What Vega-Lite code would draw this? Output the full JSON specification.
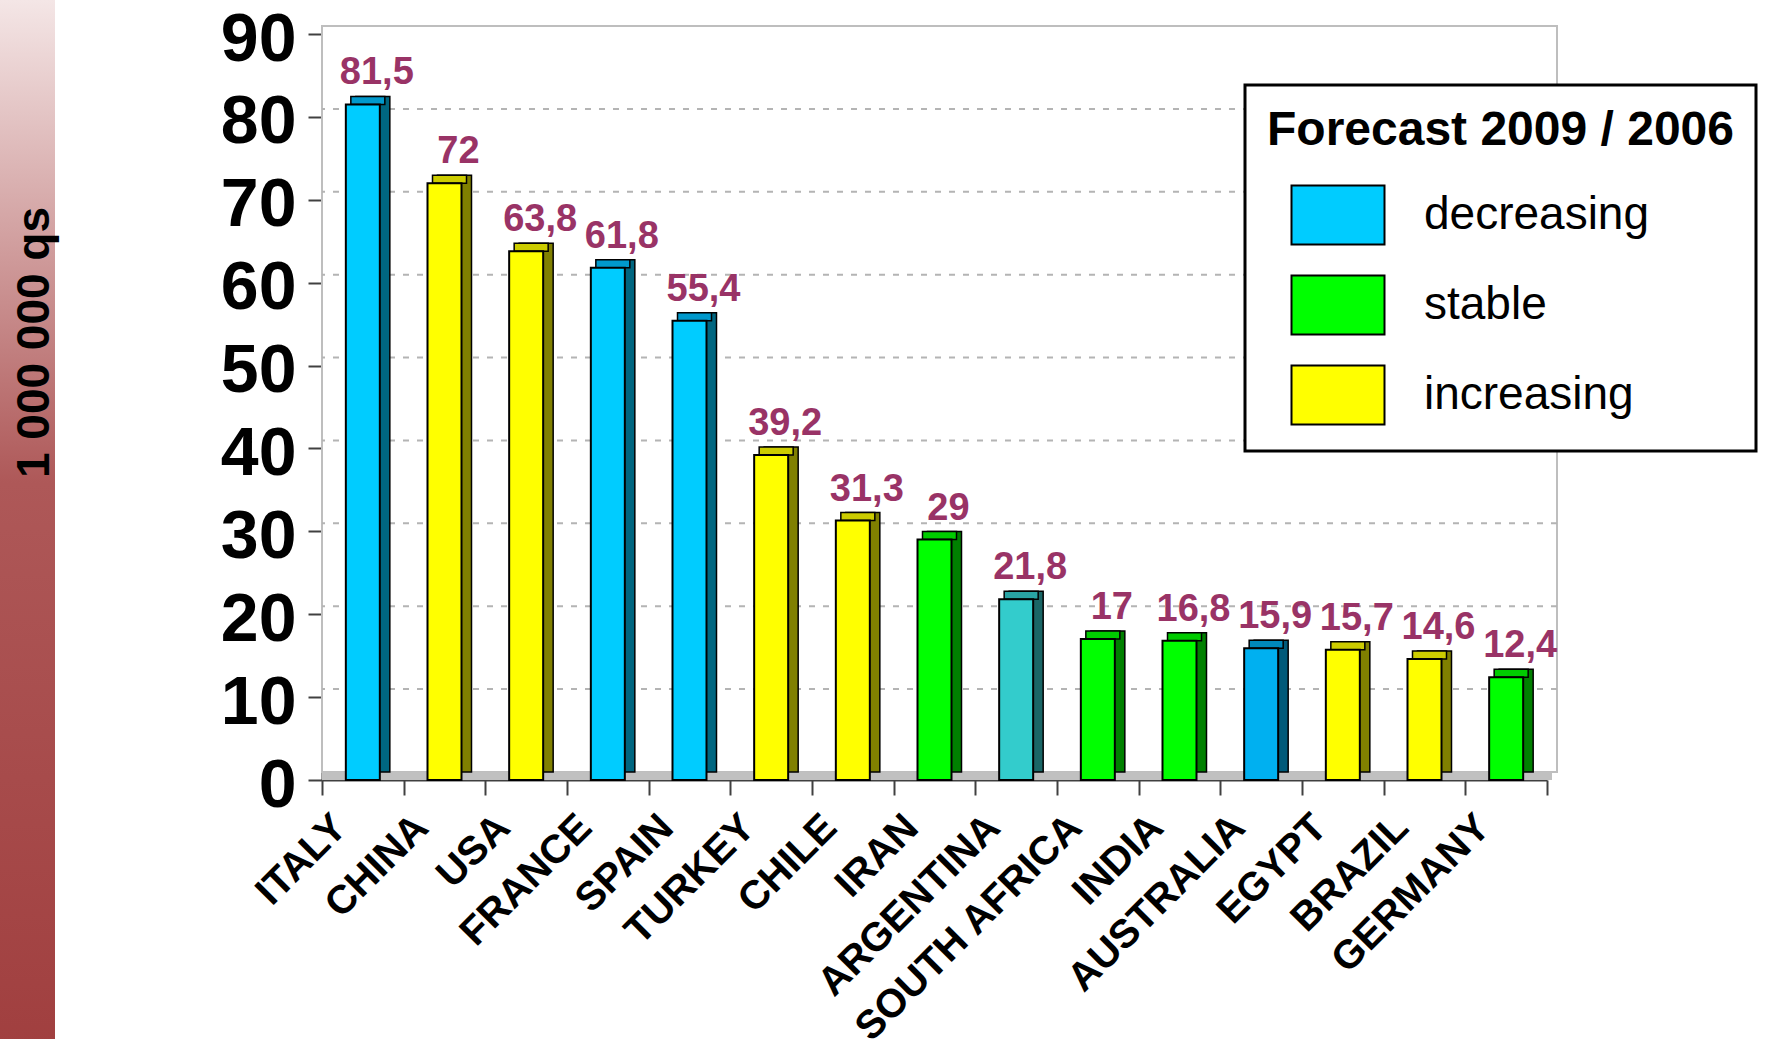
{
  "$schema": "https://vega.github.io/schema/vega-lite/v6.json",
  "background": "white",
  "padding": 0,
  "spacing": 162,
  "config": {
    "font": "Liberation Sans",
    "view": {"stroke": null},
    "legend": {"strokeWidth": 3},
    "locale": {"number": {"decimal": ",", "thousands": " ", "grouping": [3], "currency": ["", " €"]}}
  },
  "hconcat": [
    {
      "width": 55,
      "height": 1039,
      "data": {"values": [{"unit": "1 000 000 qs"}]},
      "layer": [
        {
          "mark": {
            "type": "rect",
            "yOffset": -34,
            "y2Offset": -34,
            "color": {
              "gradient": "linear",
              "x1": 0, "y1": 0, "x2": 0, "y2": 1,
              "stops": [
                {"offset": 0, "color": "#F4E6E6"},
                {"offset": 0.45, "color": "#AE5858"},
                {"offset": 1, "color": "#A03E3E"}
              ]
            }
          },
          "encoding": {}
        },
        {
          "mark": {"type": "text", "angle": 270, "fontSize": 46, "fontWeight": "bold", "color": "black", "align": "center", "baseline": "middle", "dx": 211, "dy": 7},
          "encoding": {"text": {"field": "unit"}}
        }
      ]
    },
    {
      "width": 1225,
      "height": 746,
      "data": {"values": [
        {"country": "ITALY", "value": 81.5, "trend": "decreasing"},
        {"country": "CHINA", "value": 72, "trend": "increasing"},
        {"country": "USA", "value": 63.8, "trend": "increasing"},
        {"country": "FRANCE", "value": 61.8, "trend": "decreasing"},
        {"country": "SPAIN", "value": 55.4, "trend": "decreasing"},
        {"country": "TURKEY", "value": 39.2, "trend": "increasing"},
        {"country": "CHILE", "value": 31.3, "trend": "increasing"},
        {"country": "IRAN", "value": 29, "trend": "stable"},
        {"country": "ARGENTINA", "value": 21.8, "trend": "slightly decreasing"},
        {"country": "SOUTH AFRICA", "value": 17, "trend": "stable"},
        {"country": "INDIA", "value": 16.8, "trend": "stable"},
        {"country": "AUSTRALIA", "value": 15.9, "trend": "strongly decreasing"},
        {"country": "EGYPT", "value": 15.7, "trend": "increasing"},
        {"country": "BRAZIL", "value": 14.6, "trend": "increasing"},
        {"country": "GERMANY", "value": 12.4, "trend": "stable"}
      ]},
      "resolve": {"scale": {"color": "independent"}},
      "layer": [
        {
          "mark": {"type": "bar", "width": 34, "stroke": "black", "strokeWidth": 2},
          "encoding": {
            "x": {
              "field": "country", "type": "nominal", "sort": null, "title": null,
              "scale": {"paddingInner": 0, "paddingOuter": 0},
              "axis": {
                "labelAngle": -45, "labelAlign": "right", "labelBaseline": "middle",
                "labelFontSize": 40, "labelFontWeight": "bold", "labelColor": "black",
                "labelPadding": 26, "labelOffset": -23, "labelLimit": 500,
                "tickBand": "extent", "tickSize": 15, "tickColor": "#404040", "tickWidth": 2,
                "domainColor": "#404040", "domainWidth": 2, "grid": false
              }
            },
            "y": {
              "field": "value", "type": "quantitative", "stack": null, "title": null,
              "scale": {"domain": [0, 90], "nice": false},
              "axis": {
                "values": [0, 10, 20, 30, 40, 50, 60, 70, 80, 90],
                "labelFontSize": 68, "labelFontWeight": "bold", "labelColor": "black",
                "labelPadding": 12, "labelOffset": 6, "tickSize": 14, "tickColor": "#404040", "tickWidth": 2,
                "domainColor": "#404040", "domainWidth": 2, "grid": false
              }
            },
            "opacity": {"value": 0},
            "color": {
              "field": "trend", "type": "nominal", "legend": null,
              "scale": {"domain": ["decreasing", "stable", "increasing", "slightly decreasing", "strongly decreasing"], "range": ["#00CCFF", "#00FF00", "#FFFF00", "#33CCCC", "#00B0F0"]}
            }
          }
        },
        {
          "data": {"values": [{"top": 90, "bottom": 0}]},
          "mark": {"type": "rect", "fill": "white", "stroke": "#BEBEBE", "strokeWidth": 2, "xOffset": 10, "x2Offset": 10, "yOffset": -8, "y2Offset": -8},
          "encoding": {
            "y": {"field": "top", "type": "quantitative", "title": null},
            "y2": {"field": "bottom"}
          }
        },
        {
          "data": {"values": [{"g": 10}, {"g": 20}, {"g": 30}, {"g": 40}, {"g": 50}, {"g": 60}, {"g": 70}, {"g": 80}]},
          "mark": {"type": "rule", "stroke": "#B4B4B4", "strokeWidth": 2, "strokeDash": [6, 8], "xOffset": 10, "x2Offset": 10, "yOffset": -8},
          "encoding": {
            "y": {"field": "g", "type": "quantitative", "title": null}
          }
        },
        {
          "data": {"values": [{"f": 0}]},
          "mark": {"type": "rule", "stroke": "#C0C0C0", "strokeWidth": 8, "xOffset": 5, "x2Offset": 5, "yOffset": -4},
          "encoding": {
            "y": {"field": "f", "type": "quantitative", "title": null}
          }
        },
        {
          "mark": {"type": "bar", "width": 34, "stroke": "black", "strokeWidth": 1.5, "xOffset": 10, "yOffset": -8, "y2Offset": -8},
          "encoding": {
            "x": {"field": "country", "type": "nominal", "sort": null, "title": null},
            "y": {"field": "value", "type": "quantitative", "stack": null, "title": null},
            "y2": {"datum": 0},
            "color": {
              "field": "trend", "type": "nominal", "legend": null,
              "scale": {"domain": ["decreasing", "stable", "increasing", "slightly decreasing", "strongly decreasing"], "range": ["#006680", "#008000", "#808000", "#1A6666", "#005A7A"]}
            }
          }
        },
        {
          "mark": {"type": "bar", "width": 34, "stroke": "black", "strokeWidth": 1.5, "xOffset": 5, "yOffset": -8},
          "encoding": {
            "x": {"field": "country", "type": "nominal", "sort": null, "title": null},
            "y": {"field": "value", "type": "quantitative", "stack": null, "title": null},
            "y2": {"field": "value"},
            "color": {
              "field": "trend", "type": "nominal", "legend": null,
              "scale": {"domain": ["decreasing", "stable", "increasing", "slightly decreasing", "strongly decreasing"], "range": ["#0099CC", "#00CC00", "#CCCC00", "#29A3A3", "#0088BB"]}
            }
          }
        },
        {
          "mark": {"type": "bar", "width": 34, "stroke": "black", "strokeWidth": 2},
          "encoding": {
            "x": {"field": "country", "type": "nominal", "sort": null, "title": null},
            "y": {"field": "value", "type": "quantitative", "stack": null, "title": null},
            "y2": {"datum": 0},
            "color": {
              "field": "trend", "type": "nominal",
              "scale": {"domain": ["decreasing", "stable", "increasing", "slightly decreasing", "strongly decreasing"], "range": ["#00CCFF", "#00FF00", "#FFFF00", "#33CCCC", "#00B0F0"]},
              "legend": {
                "values": ["decreasing", "stable", "increasing"],
                "title": "Forecast 2009 / 2006",
                "orient": "none", "legendX": 923, "legendY": 51,
                "titleFontSize": 48, "titleFontWeight": "bold", "titleColor": "black", "titlePadding": 28, "titleLimit": 800,
                "labelFontSize": 46, "labelColor": "black", "labelOffset": 54, "labelLimit": 600,
                "symbolType": "M-1.5,-0.95H1.5V0.95H-1.5Z", "symbolSize": 3844,
                "symbolStrokeColor": "black", "symbolStrokeWidth": 2, "symbolOffset": 39,
                "rowPadding": 22, "padding": 22,
                "strokeColor": "black", "fillColor": "white"
              }
            }
          }
        },
        {
          "mark": {"type": "text", "fontSize": 38, "fontWeight": "bold", "color": "#993366", "align": "center", "baseline": "alphabetic", "dx": 14, "dy": -20},
          "encoding": {
            "x": {"field": "country", "type": "nominal", "sort": null, "title": null},
            "y": {"field": "value", "type": "quantitative", "title": null},
            "text": {"field": "value", "type": "quantitative", "format": ".1~f"}
          }
        }
      ]
    }
  ]
}
